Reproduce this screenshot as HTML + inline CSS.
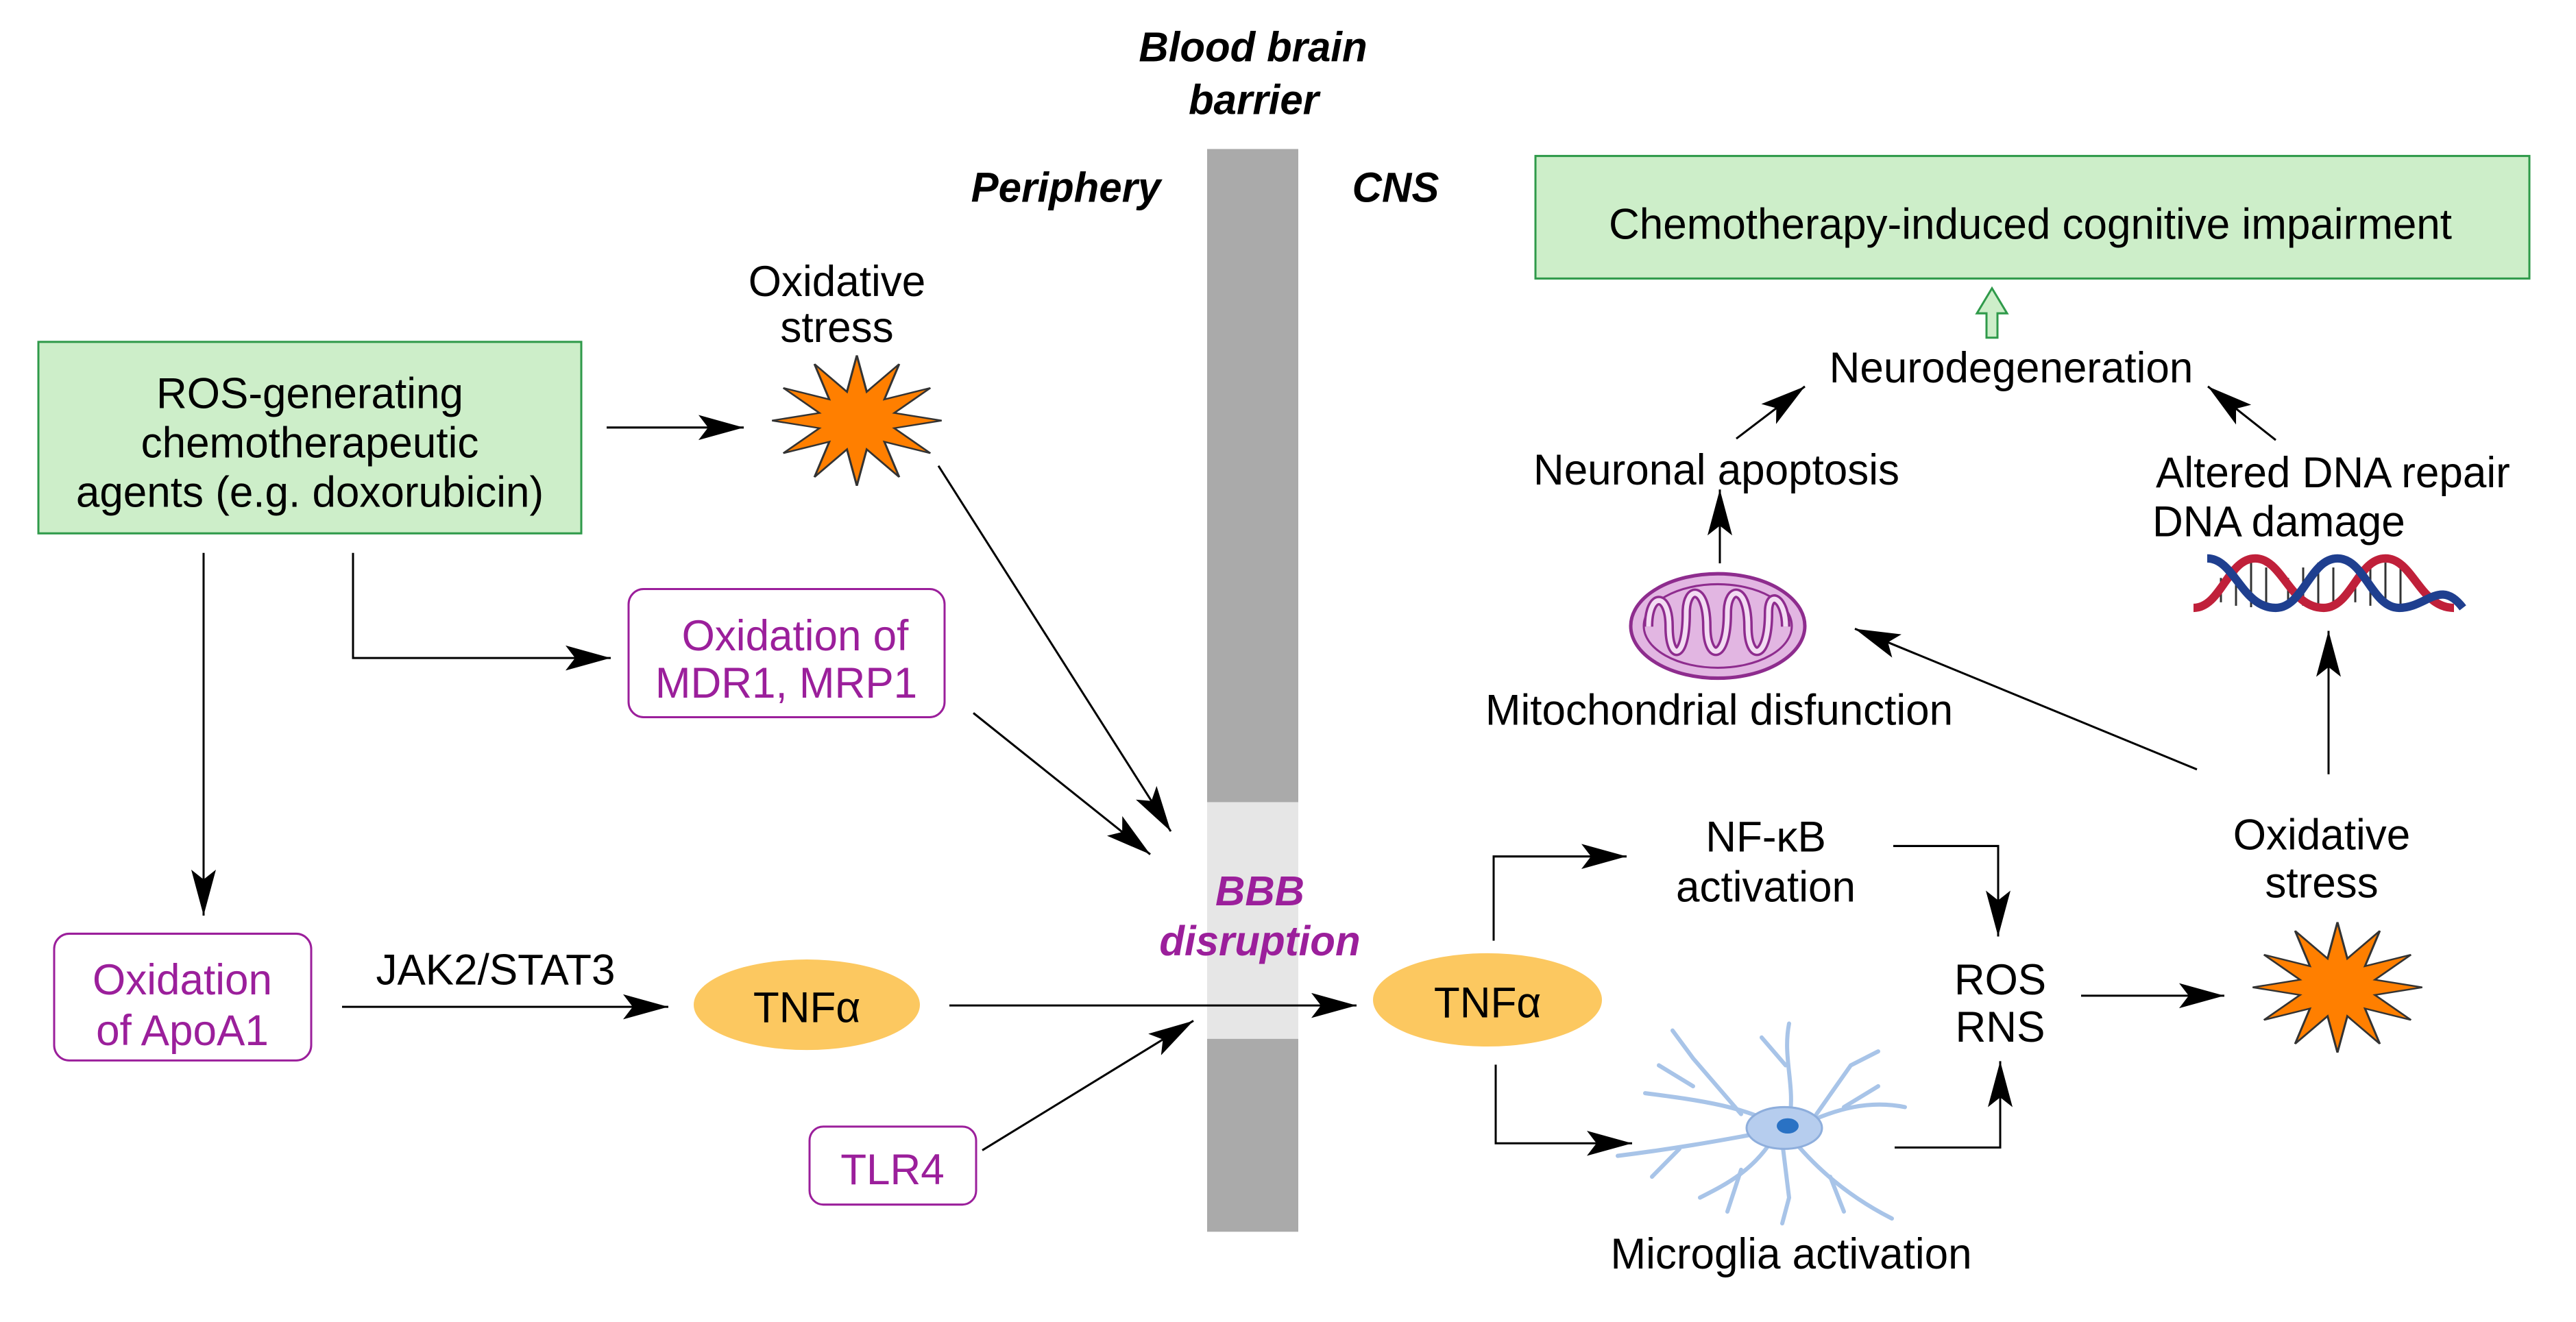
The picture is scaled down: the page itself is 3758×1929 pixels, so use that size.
<!DOCTYPE html>
<html><head><meta charset="utf-8"><style>
html,body{margin:0;padding:0;background:#fff}
svg{display:block}
text{font-family:"Liberation Sans",Arial,sans-serif}
</style></head><body>
<svg width="3758" height="1929" viewBox="0 0 3758 1929" xmlns="http://www.w3.org/2000/svg">
<defs>
<marker id="a" markerUnits="userSpaceOnUse" markerWidth="70" markerHeight="40" refX="66" refY="18" orient="auto">
<path d="M0,0 L66,18 L0,36 L14,18 z" fill="#000"/>
</marker>
<polygon id="star" points="120,0 53,14 104,60 39,39 60,104 14,53 0,120 -14,53 -60,104 -39,39 -104,60 -53,14 -120,0 -53,-14 -104,-60 -39,-39 -60,-104 -14,-53 0,-120 14,-53 60,-104 39,-39 104,-60 53,-14" fill="#ff7f00" stroke="#333" stroke-width="3"/>
</defs>
<g transform="scale(1,1.016)">
<!-- BBB bar -->
<rect x="1761" y="214" width="133" height="1555" fill="#aaaaaa"/>
<rect x="1761" y="1152" width="133" height="340" fill="#e6e6e6"/>

<g font-weight="bold" font-style="italic" font-size="60" text-anchor="middle" fill="#000">
<text x="1828" y="88">Blood brain</text>
<text x="1829" y="164">barrier</text>
<text x="1555" y="290">Periphery</text>
<text x="2036" y="290">CNS</text>
</g>
<g font-weight="bold" font-style="italic" font-size="60" text-anchor="middle" fill="#9b1f9b">
<text x="1838" y="1300">BBB</text>
<text x="1838" y="1372">disruption</text>
</g>

<rect x="56" y="491" width="792" height="275" fill="#cdeec9" stroke="#2f9a4a" stroke-width="3"/>
<g font-size="62" text-anchor="middle" fill="#000">
<text x="452" y="586">ROS-generating</text>
<text x="452" y="657">chemotherapeutic</text>
<text x="452" y="728">agents (e.g. doxorubicin)</text>
<text x="1221" y="425">Oxidative</text>
<text x="1221" y="491">stress</text>
<text x="723" y="1414">JAK2/STAT3</text>
</g>
<use href="#star" transform="translate(1250,604) scale(1.03,0.78)"/>

<g stroke="#000" stroke-width="3" fill="none" marker-end="url(#a)">
<line x1="885" y1="614" x2="1085" y2="614"/>
<polyline points="515,794 515,945 891,945"/>
<line x1="297" y1="794" x2="297" y2="1315"/>
<line x1="1369" y1="669" x2="1708" y2="1194"/>
<line x1="1420" y1="1024" x2="1678" y2="1227"/>
<line x1="499" y1="1446" x2="975" y2="1446"/>
<line x1="1385" y1="1444" x2="1979" y2="1444"/>
<line x1="1433" y1="1652" x2="1741" y2="1466"/>
</g>

<g fill="#fff" stroke="#9b1f9b" stroke-width="3">
<rect x="917" y="846" width="461" height="184" rx="22"/>
<rect x="79" y="1341" width="375" height="182" rx="22"/>
<rect x="1181" y="1618" width="243" height="112" rx="20"/>
</g>
<g font-size="62" text-anchor="middle" fill="#9b1f9b">
<text x="1160" y="934">Oxidation of</text>
<text x="1147" y="1002">MDR1, MRP1</text>
<text x="266" y="1428">Oxidation</text>
<text x="266" y="1501">of ApoA1</text>
<text x="1302" y="1701">TLR4</text>
</g>

<ellipse cx="1177" cy="1443" rx="165" ry="65" fill="#fcc860"/>
<ellipse cx="2170" cy="1436" rx="167" ry="67" fill="#fcc860"/>
<g font-size="62" text-anchor="middle" fill="#000">
<text x="1177" y="1468">TNFα</text>
<text x="2170" y="1461">TNFα</text>
</g>

<rect x="2240" y="224" width="1450" height="176" fill="#cdeec9" stroke="#2f9a4a" stroke-width="3"/>
<g font-size="62" text-anchor="middle" fill="#000">
<text x="2962" y="343">Chemotherapy-induced cognitive impairment</text>
<text x="2934" y="549">Neurodegeneration</text>
<text x="2504" y="696">Neuronal apoptosis</text>
<text x="2508" y="1041">Mitochondrial disfunction</text>
<text x="3387" y="1220">Oxidative</text>
<text x="3387" y="1289">stress</text>
<text x="2918" y="1428">ROS</text>
<text x="2918" y="1496">RNS</text>
<text x="2576" y="1223">NF-κB</text>
<text x="2576" y="1295">activation</text>
<text x="2613" y="1822">Microglia activation</text>
</g>
<g font-size="62" fill="#000">
<text x="3145" y="700">Altered DNA repair</text>
<text x="3140" y="770">DNA damage</text>
</g>
<path d="M2898,485 L2898,450 L2884,450 L2906,414 L2928,450 L2914,450 L2914,485 z" fill="#cdeec9" stroke="#2f9a4a" stroke-width="3"/>

<g stroke="#000" stroke-width="3" fill="none" marker-end="url(#a)">
<line x1="2533" y1="630" x2="2633" y2="555"/>
<line x1="3320" y1="632" x2="3221" y2="555"/>
<line x1="2509" y1="809" x2="2509" y2="703"/>
<line x1="3205" y1="1105" x2="2706" y2="903"/>
<line x1="3397" y1="1112" x2="3397" y2="906"/>
<line x1="3036" y1="1430" x2="3245" y2="1430"/>
<polyline points="2179,1351 2179,1230 2373,1230"/>
<polyline points="2762,1215 2915,1215 2915,1345"/>
<polyline points="2182,1529 2182,1642 2381,1642"/>
<polyline points="2764,1648 2918,1648 2918,1524"/>
</g>

<use href="#star" transform="translate(3410,1418) scale(1.03,0.78)"/>

<ellipse cx="2506" cy="899" rx="127" ry="75" fill="#e2b6e2" stroke="#8e2c8e" stroke-width="5"/>
<ellipse cx="2506" cy="899" rx="108" ry="60" fill="none" stroke="#8e2c8e" stroke-width="3"/>
<path d="M2405,900 C2405,850 2435,850 2435,900 C2435,950 2460,950 2460,880 C2460,840 2490,840 2490,900 C2490,950 2520,950 2520,880 C2520,840 2550,840 2550,900 C2550,950 2580,950 2580,880 C2580,845 2605,860 2605,900" fill="none" stroke="#8e2c8e" stroke-width="14"/>
<path d="M2405,900 C2405,850 2435,850 2435,900 C2435,950 2460,950 2460,880 C2460,840 2490,840 2490,900 C2490,950 2520,950 2520,880 C2520,840 2550,840 2550,900 C2550,950 2580,950 2580,880 C2580,845 2605,860 2605,900" fill="none" stroke="#f3dcf3" stroke-width="7"/>

<g stroke="#333" stroke-width="3">
<line x1="3240" y1="830" x2="3240" y2="865"/><line x1="3262" y1="815" x2="3262" y2="870"/>
<line x1="3284" y1="808" x2="3284" y2="872"/><line x1="3306" y1="815" x2="3306" y2="870"/>
<line x1="3338" y1="830" x2="3338" y2="865"/><line x1="3360" y1="815" x2="3360" y2="870"/>
<line x1="3382" y1="808" x2="3382" y2="872"/><line x1="3404" y1="815" x2="3404" y2="870"/>
<line x1="3436" y1="830" x2="3436" y2="865"/><line x1="3458" y1="815" x2="3458" y2="870"/>
<line x1="3480" y1="808" x2="3480" y2="872"/><line x1="3502" y1="815" x2="3502" y2="870"/>
</g>
<path d="M3200,873 C3240,873 3250,802 3290,802 C3330,802 3340,873 3390,873 C3430,873 3440,802 3480,802 C3520,802 3530,873 3580,873" fill="none" stroke="#c0203a" stroke-width="12"/>
<path d="M3220,802 C3260,802 3270,873 3320,873 C3360,873 3370,802 3410,802 C3450,802 3460,873 3500,873 C3540,873 3560,830 3593,873" fill="none" stroke="#1f3f8f" stroke-width="12"/>

<g stroke="#a8c4e8" stroke-width="6" fill="none" stroke-linecap="round">
<path d="M2600,1620 C2550,1590 2480,1580 2400,1570"/>
<path d="M2540,1600 L2470,1520 L2440,1480"/>
<path d="M2470,1560 L2420,1530"/>
<path d="M2610,1610 C2620,1560 2600,1520 2610,1470"/>
<path d="M2605,1530 L2570,1490"/>
<path d="M2620,1620 C2680,1590 2730,1580 2779,1590"/>
<path d="M2650,1600 L2700,1530 L2740,1510"/>
<path d="M2690,1590 L2740,1560"/>
<path d="M2610,1630 C2650,1680 2700,1720 2760,1750"/>
<path d="M2670,1690 L2690,1740"/>
<path d="M2590,1630 C2560,1680 2520,1700 2480,1720"/>
<path d="M2540,1680 L2520,1740"/>
<path d="M2580,1625 C2500,1640 2440,1650 2360,1660"/>
<path d="M2450,1650 L2410,1690"/>
<path d="M2600,1640 L2610,1720 L2600,1757"/>
</g>
<ellipse cx="2603" cy="1620" rx="55" ry="30" fill="#b6cdee" stroke="#8eaedc" stroke-width="3"/>
<ellipse cx="2608" cy="1617" rx="16" ry="11" fill="#2a72c4"/>
</g>
</svg>
</body></html>
